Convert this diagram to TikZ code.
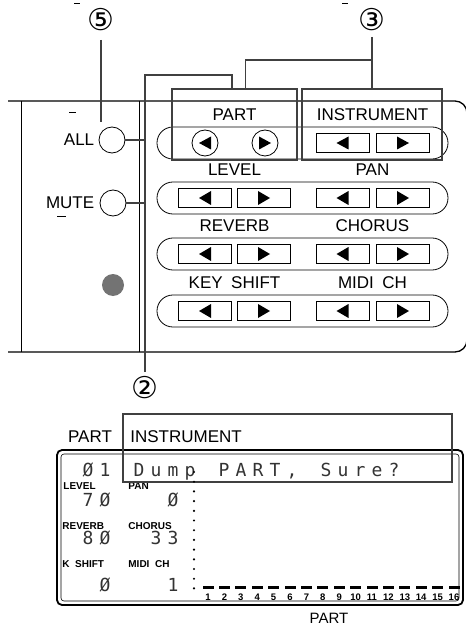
\documentclass[tikz,border=0pt]{standalone}
\usepackage{fontspec}
\setmainfont{Liberation Sans}
\newfontfamily\lcdfont{DejaVu Sans Mono}
\newfontfamily\circfont{DejaVu Sans}
\usetikzlibrary{positioning}

\begin{document}
\begin{tikzpicture}[x=1pt, y=-1pt, line width=0.8pt,
  lbl/.style={font=\fontsize{17}{17}\selectfont, inner sep=0pt},
  tag/.style={font=\bfseries\fontsize{10}{10}\selectfont, inner sep=0pt},
  tick/.style={font=\bfseries\fontsize{9.5}{9.5}\selectfont, inner sep=0pt},
  lcd/.style={font=\lcdfont\fontsize{18}{18}\selectfont, text=black!80, inner sep=0pt, anchor=base},
  num/.style={font=\circfont\fontsize{30}{30}\selectfont, inner sep=0pt},
  key/.style={draw, minimum width=53pt, minimum height=19pt, inner sep=0pt},
  rkey/.style={draw, circle, minimum size=26pt, inner sep=0pt},
  capsule/.style={draw, rounded corners=15.9pt, minimum width=291pt, minimum height=32pt, inner sep=0pt},
  hilite/.style={draw=black!75, line width=1.8pt, inner sep=0pt},
  leader/.style={black!75, line width=1.8pt}]
  \useasboundingbox (0,0) rectangle (465,628);

  % front panel
  \draw[line width=1.3pt, rounded corners=12pt] (8,101) -- (467,101) -- (467,352) -- (8,352);
  \draw (21,101) -- (21,352);
  \draw (139,101) -- (139,352);
  \draw (74,3) -- (80,3);
  \draw (342,3) -- (348,3);

  \foreach \y [count=\r] in {143,198,254,311}
    \node[capsule] (cap\r) at (302.5,\y) {};

  \node[rkey] (pl) at (205,143) {};
  \node[rkey] (pr) at (265,143) {};
  \node[key] (il) at (342.5,143) {};
  \node[key] (ir) at (403,143) {};
  \foreach \n/\d in {pl/-1, pr/1, il/-1, ir/1}
    \fill (\n.center) ++({6*\d},0) -- ++({-12*\d},-6.5) -- ++(0,13) -- cycle;

  \foreach \r/\y in {2/198, 3/254, 4/311}
    \foreach \c/\x/\d in {1/205/-1, 2/264/1, 3/342.5/-1, 4/403/1} {
      \node[key] (k\r\c) at (\x,\y) {};
      \fill (k\r\c.center) ++({6*\d},0) -- ++({-12*\d},-7) -- ++(0,14) -- cycle;
    }

  \foreach \y/\a/\b [count=\r] in {143/PART/INSTRUMENT, 198/LEVEL/PAN, 254/REVERB/CHORUS,
      311/KEY\hspace{0.5em}SHIFT/MIDI\hspace{0.5em}CH} {
    \node[lbl] (la\r) at (234.5,{\y-28}) {\a};
    \node[lbl] (lb\r) at (372.5,{\y-28}) {\b};
  }

  \node[hilite, minimum width=125pt, minimum height=71pt] (partbox) at (234.5,124.5) {};
  \node[hilite, minimum width=140pt, minimum height=71pt] (instbox) at (372,124.5) {};

  \node[rkey] (all) at (112,140) {};
  \node[lbl, left=4pt of all] (alltxt) {ALL};
  \node[rkey] (mute) at (113,203) {};
  \node[lbl, left=5pt of mute] (mutetxt) {MUTE};
  \draw (69,112) -- (76,112);
  \draw (57,216) -- (66,216);
  \fill[black!55] (113,285) circle (11pt);

  % callouts
  \node[num] (five) at (101,20) {⑤};
  \node[num] (three) at (372,20) {③};
  \node[num] (two) at (145,388) {②};
  \coordinate (fiveend) at (101,122);
  \coordinate (twotop) at (145,75);
  \coordinate (threej) at (372,60);
  \draw[leader] (five.center) ++(0,20) -- (fiveend);
  \draw[leader] (three.center) ++(0,17) -- (instbox.north);
  \draw[leader] (threej) -| ([xshift=11pt]partbox.north);
  \draw[leader] (two.center) ++(0,-16) -- (twotop) -| ([xshift=-2.5pt]partbox.north);
  \draw[leader, line width=2.2pt] (all.east) -- (all.east -| twotop);
  \draw[leader, line width=2.2pt] (mute.east) -- (mute.east -| twotop);

  % display
  \draw[line width=1.8pt, rounded corners=5pt] (57,450) rectangle (463,605);
  \draw[line width=0.6pt, rounded corners=3pt] (61,454) rectangle (459,601);
  \node[lbl] (dpart) at (90,437) {PART};
  \node[lbl, anchor=west] (dinst) at (130,437) {INSTRUMENT};

  \foreach \ch [count=\k from 0] in {Ø,1,{},D,u,m,p,{},P,A,R,T,{,},{},S,u,r,e,?}
    \node[lcd] (ra\k) at ({88+17*\k},476.5) {\ch};
  \node[lcd] (rb0) at (88,506.5) {7};
  \node[lcd] (rb1) at (105,506.5) {Ø};
  \node[lcd] (rb5) at (173,506.5) {Ø};
  \node[lcd] (rc0) at (88,544.5) {8};
  \node[lcd] (rc1) at (105,544.5) {Ø};
  \node[lcd] (rc4) at (156,544.5) {3};
  \node[lcd] (rc5) at (173,544.5) {3};
  \node[lcd] (rd1) at (105,591.5) {Ø};
  \node[lcd] (rd5) at (173,591.5) {1};

  \node[tag, anchor=base west] (tlevel) at (63,489) {LEVEL};
  \node[tag, anchor=base west] (tpan) at (128,489) {PAN};
  \node[tag, anchor=base west] (treverb) at (62,529) {REVERB};
  \node[tag, anchor=base west] (tchorus) at (128,529) {CHORUS};
  \node[tag, anchor=base west] (tshift) at (62,567) {K\ \ SHIFT};
  \node[tag, anchor=base west] (tmidi) at (128,567) {MIDI\ \ CH};

  \node[hilite, minimum width=329pt, minimum height=68pt] (lcdbox) at (287.5,448) {};

  \foreach \i in {0,...,12}
    \fill (194,{472+9.7*\i}) circle (1.2pt);
  \foreach \i in {1,...,16} {
    \fill ({202.5+16.4*(\i-1)},585.5) rectangle ++(11,3.5);
    \node[tick] (pn\i) at ({208+16.4*(\i-1)},597) {\i};
  }
  \node[lbl, font=\fontsize{15}{15}\selectfont] (dpartb) at (329,618) {PART};
\end{tikzpicture}
\end{document}
